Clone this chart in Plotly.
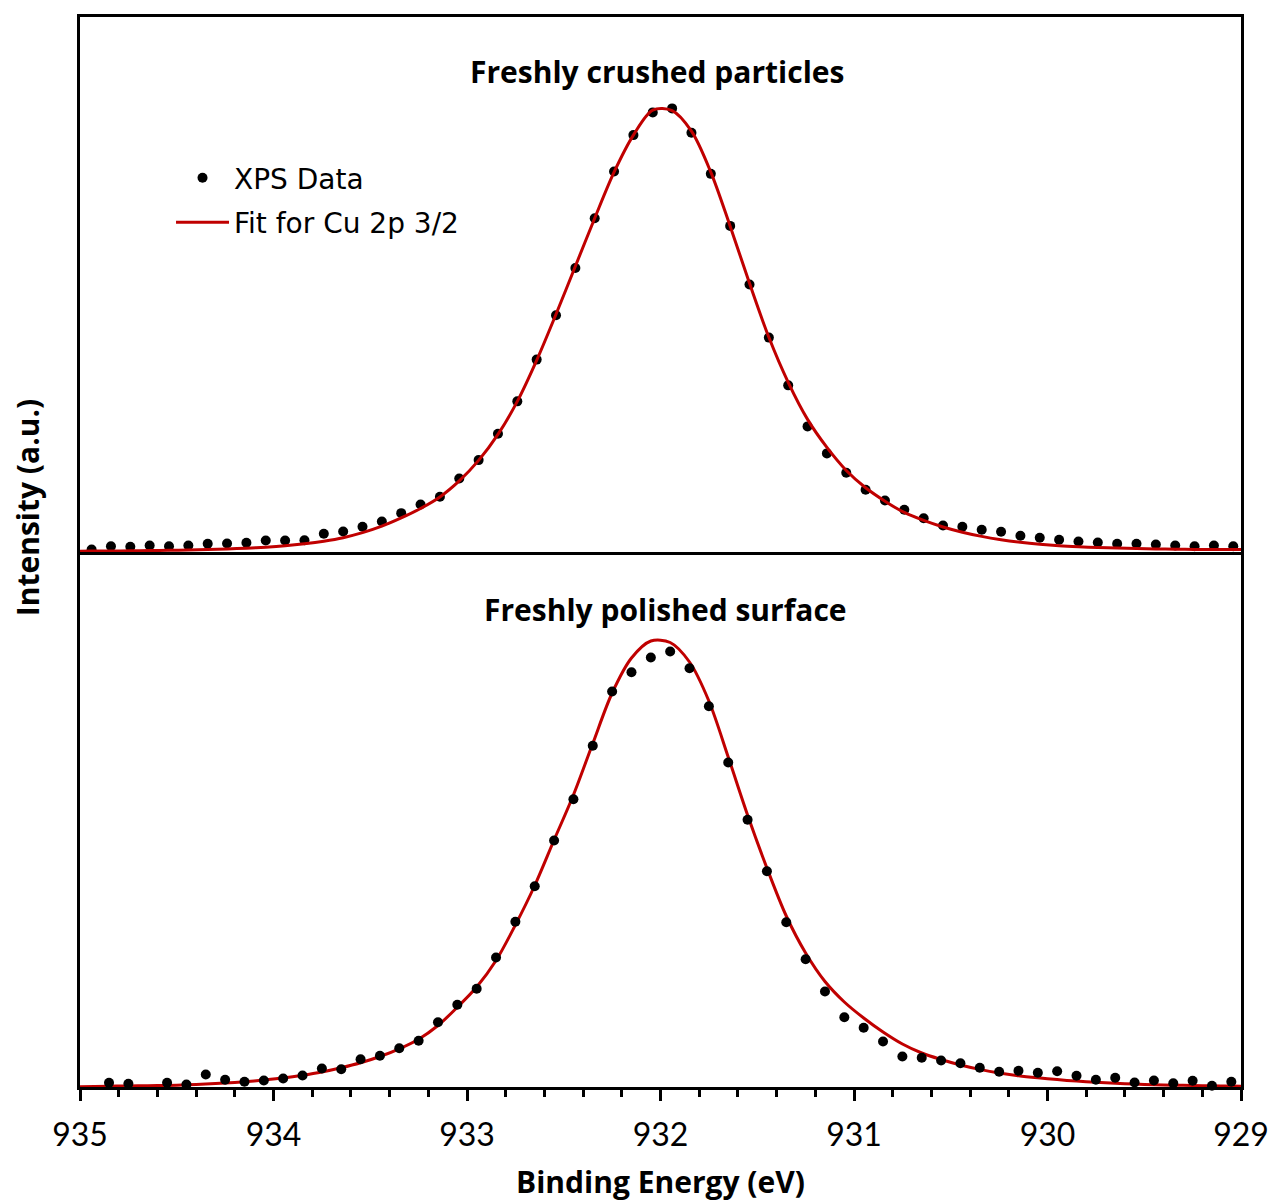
import plotly.graph_objects as go
from plotly.subplots import make_subplots

# ---------------- data ----------------
# binding energy grids (eV)
be_top = [round(934.94 - 0.1 * i, 2) for i in range(60)]
be_bot = [round(934.95 - 0.1 * i, 2) for i in range(60)]

# XPS data, freshly crushed particles (a.u.)
xps_top = [2.5, 5.8, 5.2, 6.5, 5.8, 6.5, 8.2, 8.5, 9.2, 11.5,
           11.5, 11.8, 18.2, 20.5, 25.2, 30.5, 38.8, 47.5, 55.2, 73.5,
           91.8, 118.2, 150.5, 192.2, 236.5, 283.8, 333.5, 380.2, 416.5, 439.2,
           443.2, 418.8, 377.8, 325.8, 267.2, 214.2, 166.5, 125.5, 98.5, 79.2,
           62.2, 51.5, 42.2, 33.8, 26.5, 25.2, 22.2, 20.2, 16.2, 14.2,
           12.2, 10.5, 9.5, 8.2, 8.2, 7.5, 6.5, 5.8, 6.5, 5.8]

# Fit for Cu 2p 3/2, freshly crushed particles
fit_top_be = [935.0, 934.94, 934.84, 934.74, 934.64, 934.54, 934.44, 934.34, 934.24, 934.14,
              934.04, 933.94, 933.84, 933.74, 933.64, 933.54, 933.44, 933.34, 933.24, 933.14,
              933.04, 932.94, 932.84, 932.74, 932.64, 932.54, 932.44, 932.34, 932.24, 932.14,
              932.04, 931.94, 931.84, 931.74, 931.64, 931.54, 931.44, 931.34, 931.24,
              931.14, 931.04, 930.94, 930.84, 930.74, 930.64, 930.54, 930.44, 930.34, 930.24,
              930.14, 930.04, 929.94, 929.84, 929.74, 929.64, 929.54, 929.44, 929.34, 929.24,
              929.14, 929.04, 929.0]
fit_top = [0.8, 1.0, 1.0, 1.2, 1.4, 1.7, 2.0, 2.4, 3.0, 3.8,
           4.8, 6.2, 8.2, 10.8, 14.3, 19.3, 25.8, 34.0, 43.5, 55.0,
           71.0, 91.5, 117.5, 150.5, 191.5, 237.5, 285.5, 333.5, 379.5, 416.5,
           441.5, 441.0, 420.5, 379.5, 325.5, 268.5, 214.5, 169.5, 132.5,
           104.5, 81.5, 64.2, 50.8, 39.5, 31.5, 25.0, 19.8, 15.6, 12.3,
           9.7, 7.7, 6.2, 5.2, 4.5, 3.9, 3.5, 3.1, 2.8, 2.6,
           2.5, 2.4, 2.4]

# XPS data, freshly polished surface (None = point not visible)
xps_bot = [None, 4.2, 3.2, None, 4.2, 2.5, 12.5, 7.2, 5.2, 6.5,
           8.5, 11.5, 18.5, 17.8, 27.8, 31.2, 38.8, 46.2, 64.8, 82.2,
           98.2, 129.5, 165.2, 200.8, 246.5, 287.8, 341.2, 395.5, 414.8, 429.5,
           435.5, 418.8, 380.8, 324.5, 267.2, 215.8, 164.8, 127.8, 95.5, 69.8,
           59.2, 45.5, 30.5, 29.2, 26.5, 23.8, 19.2, 15.2, 16.2, 14.2,
           15.8, 11.2, 7.2, 9.2, 4.5, 6.5, 3.8, 6.2, 1.2, 5.2]

# Fit for Cu 2p 3/2, freshly polished surface
fit_bot_be = [935.0, 934.85, 934.75, 934.65, 934.55, 934.45, 934.35, 934.25, 934.15, 934.05,
              933.95, 933.85, 933.75, 933.65, 933.55, 933.45, 933.35, 933.25, 933.15, 933.05,
              932.95, 932.85, 932.75, 932.65, 932.55, 932.45, 932.35, 932.25, 932.15, 932.05,
              931.95, 931.85, 931.75, 931.65, 931.55, 931.45, 931.35, 931.25, 931.15,
              931.05, 930.95, 930.85, 930.75, 930.65, 930.55, 930.45, 930.35, 930.25, 930.15,
              930.05, 929.95, 929.85, 929.75, 929.65, 929.55, 929.45, 929.35, 929.25, 929.15,
              929.05, 929.0]
fit_bot = [0.2, 0.8, 1.0, 1.3, 1.6, 2.2, 3.0, 4.0, 5.3, 7.0,
           9.0, 11.7, 15.0, 19.2, 24.2, 30.5, 38.2, 47.8, 61.5, 79.8,
           100.0, 126.5, 162.0, 201.5, 247.0, 292.0, 343.5, 394.0, 429.0, 446.0,
           444.5, 425.0, 386.0, 330.0, 272.0, 219.0, 171.0, 134.0, 105.5,
           85.0, 69.0, 55.0, 43.0, 34.0, 27.5, 22.0, 17.6, 14.0, 11.3,
           9.2, 7.4, 5.9, 4.7, 3.7, 2.9, 2.3, 1.8, 1.5, 1.2,
           0.9, 0.8]

panel_titles = ["Freshly crushed particles", "Freshly polished surface"]
x_ticks = [935, 934, 933, 932, 931, 930, 929]

# ---------------- figure ----------------
RED = "#C00000"
fig = make_subplots(rows=2, cols=1, shared_xaxes=True, vertical_spacing=0)

fig.add_trace(go.Scatter(x=be_top, y=xps_top, mode="markers", name="XPS Data",
                         marker=dict(color="black", size=10), cliponaxis=False,
                         legendgroup="a"), row=1, col=1)
fig.add_trace(go.Scatter(x=fit_top_be, y=fit_top, mode="lines", name="Fit for Cu 2p 3/2",
                         line=dict(color=RED, width=3, shape="spline", smoothing=0.9),
                         cliponaxis=False, legendgroup="b"), row=1, col=1)
fig.add_trace(go.Scatter(x=fit_bot_be, y=fit_bot, mode="lines", showlegend=False,
                         line=dict(color=RED, width=3, shape="spline", smoothing=0.9),
                         cliponaxis=False), row=2, col=1)
fig.add_trace(go.Scatter(x=be_bot, y=xps_bot, mode="markers", showlegend=False,
                         marker=dict(color="black", size=10), cliponaxis=False),
              row=2, col=1)

tick_font = dict(family="Lato", size=32, color="black")
bold = dict(family="Open Sans", size=30, color="black", weight="bold")

fig.update_xaxes(range=[935, 929], showline=True, linecolor="black", linewidth=3,
                 showgrid=False, zeroline=False)
fig.update_xaxes(row=1, col=1, ticks="", showticklabels=False, mirror=True)
fig.update_xaxes(row=2, col=1, ticks="outside", ticklen=11, tickwidth=2.5, tickcolor="black",
                 tickvals=x_ticks, ticktext=[str(v) for v in x_ticks], tickfont=tick_font,
                 ticklabelstandoff=7,
                 minor=dict(ticks="outside", dtick=0.2, ticklen=7, tickwidth=2.5,
                            tickcolor="black", showgrid=False),
                 title=dict(text="Binding Energy (eV)", font=bold, standoff=20))
fig.update_yaxes(showline=True, linecolor="black", linewidth=3, mirror=True,
                 showgrid=False, zeroline=False, showticklabels=False, ticks="")
fig.update_yaxes(row=1, col=1, range=[0, 534.5])
fig.update_yaxes(row=2, col=1, range=[0, 535])

fig.add_annotation(text=panel_titles[0], xref="paper", yref="paper", x=0.497, y=0.9495,
                   showarrow=False, font=bold, xanchor="center", yanchor="middle")
fig.add_annotation(text=panel_titles[1], xref="paper", yref="paper", x=0.504, y=0.4465,
                   showarrow=False, font=bold, xanchor="center", yanchor="middle")
fig.add_annotation(text="Intensity (a.u.)", xref="paper", yref="paper", x=-0.0457, y=0.5418,
                   textangle=-90, showarrow=False, font=bold,
                   xanchor="center", yanchor="middle")

fig.update_layout(
    width=1272, height=1203,
    margin=dict(l=80, r=31, t=17, b=116, autoexpand=False),
    paper_bgcolor="white", plot_bgcolor="white",
    showlegend=True,
    legend=dict(x=0.0784, y=0.8728, xanchor="left", yanchor="top",
                font=dict(family="DejaVu Sans", size=28, color="black"),
                bgcolor="rgba(0,0,0,0)", borderwidth=0, tracegroupgap=5,
                itemwidth=53),
)

fig.write_html("out.html")
